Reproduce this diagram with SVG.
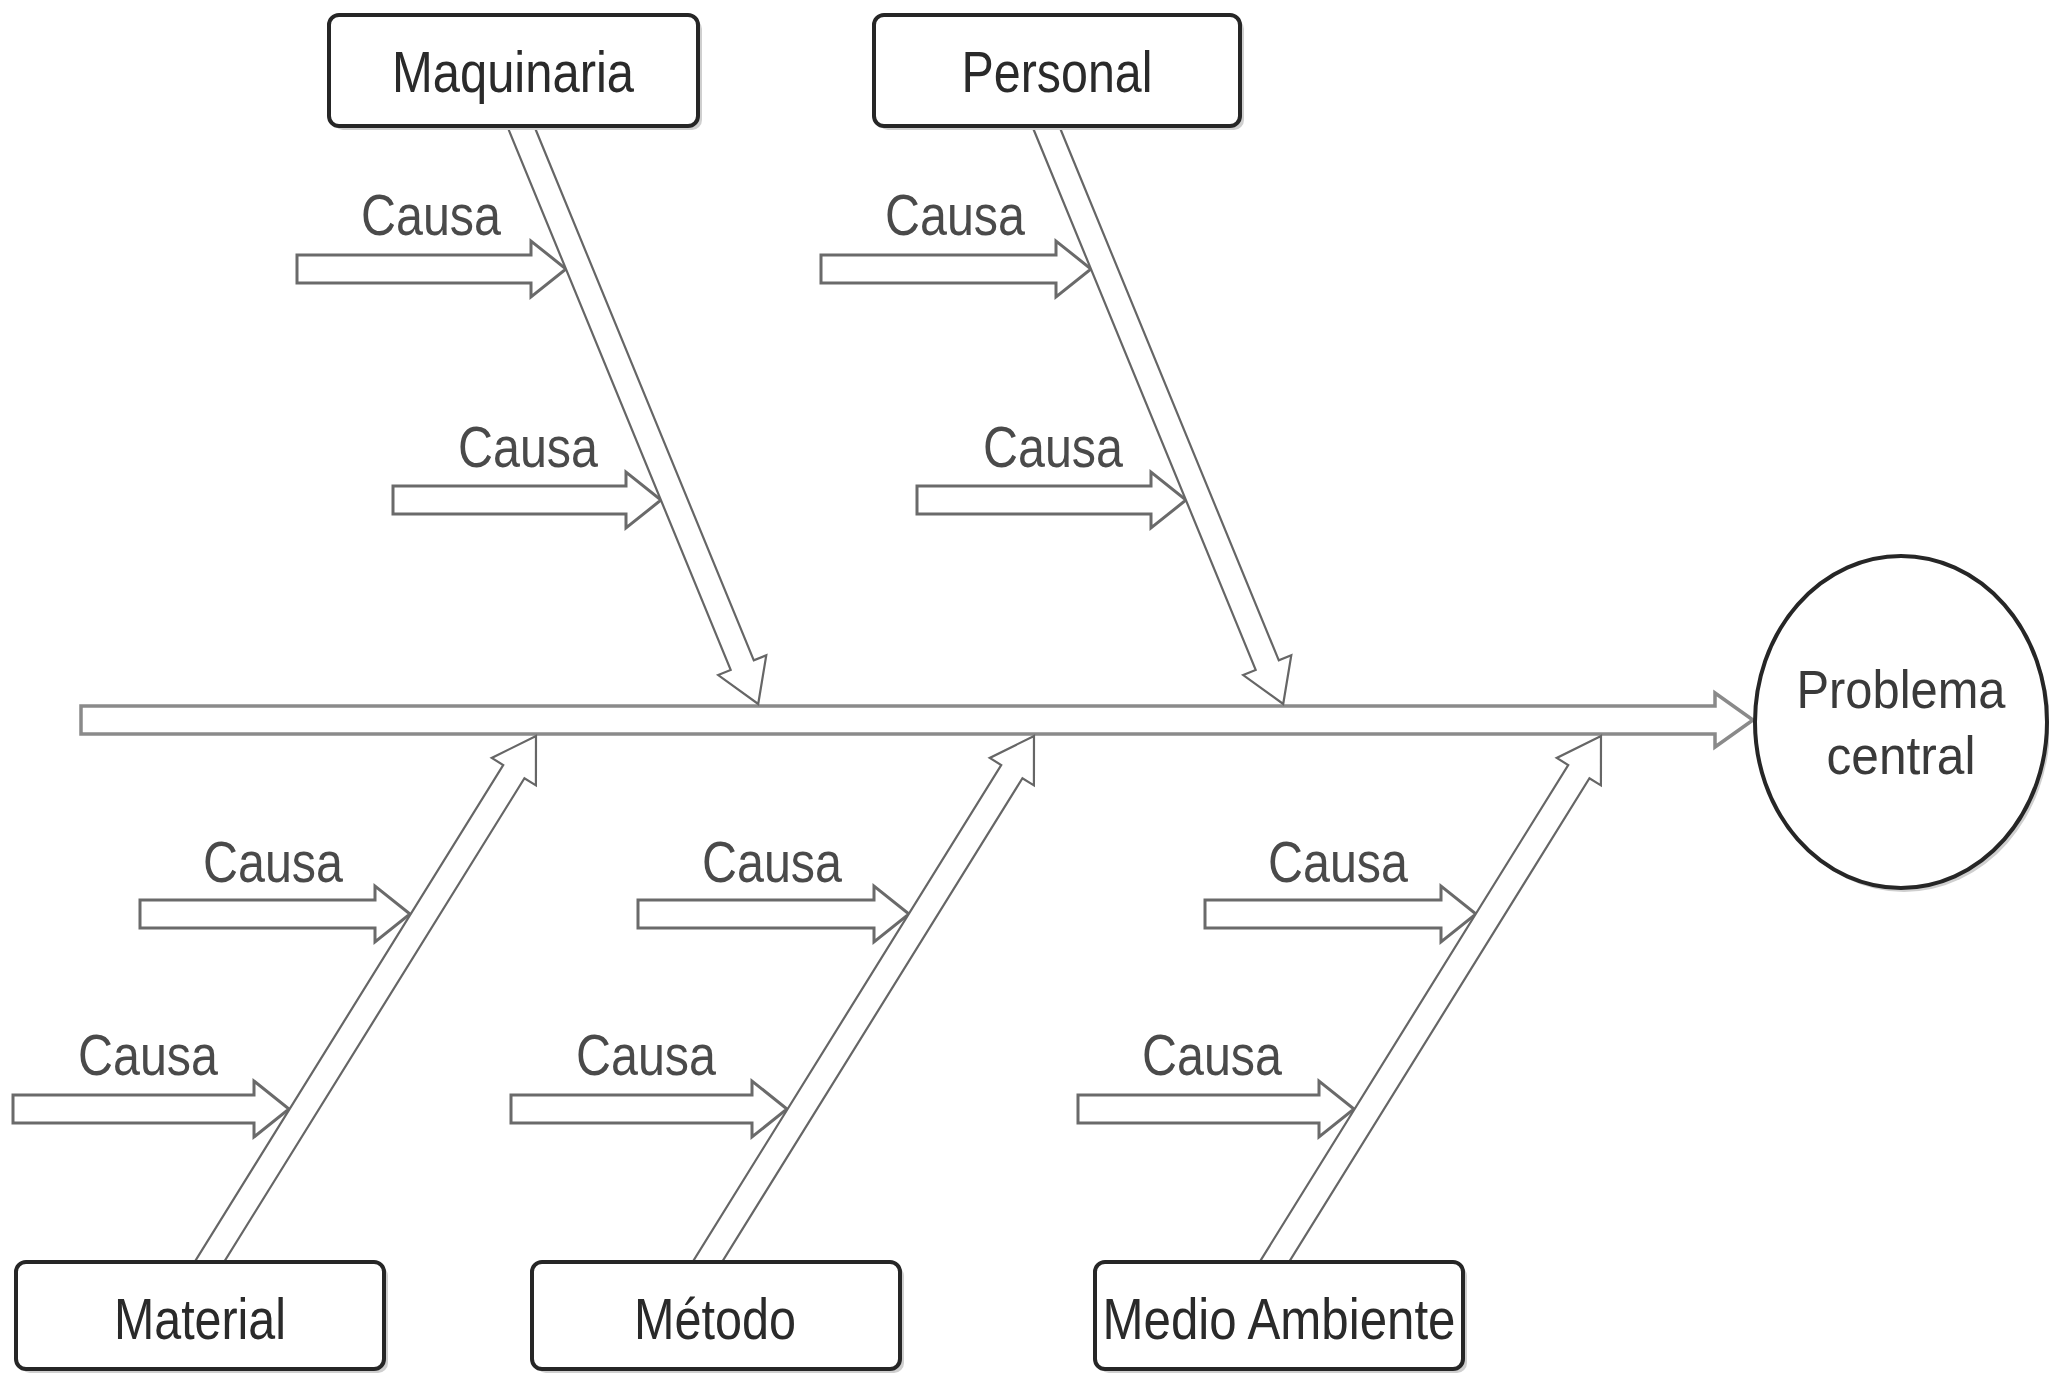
<svg xmlns="http://www.w3.org/2000/svg" width="2049" height="1375" viewBox="0 0 2049 1375">
<style>
.bg{fill:#ffffff}
.spine{fill:#ffffff;stroke:#8a8a8a;stroke-width:3.5;stroke-linejoin:miter}
.branch{fill:#ffffff;stroke:#666666;stroke-width:2.2;stroke-linejoin:miter}
.cause{fill:#ffffff;stroke:#6a6a6a;stroke-width:3;stroke-linejoin:miter}
.box{fill:#ffffff;stroke:#262626;stroke-width:4}
.shadow{fill:#cfcfcf}
.lbl{font-family:"Liberation Sans",Arial,sans-serif;font-size:58px;fill:#2a2a2a;text-anchor:middle}
.causa{font-family:"Liberation Sans",Arial,sans-serif;font-size:58px;fill:#4a4a4a}
</style>
<rect class="bg" x="0" y="0" width="2049" height="1375"/>

<g id="connectors">
  <polygon id="spine" class="spine" points="81,706 1715,706 1715,693 1753,720 1715,747 1715,734 81,734"/>
  <g id="cause-arrows">
    <polygon class="cause" points="297,255 531,255 531,241 566,269 531,297 531,283 297,283"/>
    <polygon class="cause" points="821,255 1056,255 1056,241 1091,269 1056,297 1056,283 821,283"/>
    <polygon class="cause" points="393,486 626,486 626,472 661,500 626,528 626,514 393,514"/>
    <polygon class="cause" points="917,486 1151,486 1151,472 1186,500 1151,528 1151,514 917,514"/>
    <polygon class="cause" points="140,900 375,900 375,886 410,914 375,942 375,928 140,928"/>
    <polygon class="cause" points="638,900 874,900 874,886 909,914 874,942 874,928 638,928"/>
    <polygon class="cause" points="1205,900 1441,900 1441,886 1476,914 1441,942 1441,928 1205,928"/>
    <polygon class="cause" points="13,1095 254,1095 254,1081 289,1109 254,1137 254,1123 13,1123"/>
    <polygon class="cause" points="511,1095 752,1095 752,1081 787,1109 752,1137 752,1123 511,1123"/>
    <polygon class="cause" points="1078,1095 1319,1095 1319,1081 1354,1109 1319,1137 1319,1123 1078,1123"/>
  </g>
  <g id="branches">
    <polygon class="branch" transform="translate(510,100) rotate(67.66)" points="0,-12.5 611,-12.5 611,-26 653,0 611,26 611,12.5 0,12.5"/>
    <polygon class="branch" transform="translate(1035,100) rotate(67.66)" points="0,-12.5 611,-12.5 611,-26 653,0 611,26 611,12.5 0,12.5"/>
    <polygon class="branch" transform="translate(191.5,1290.7) rotate(-58.16)" points="0,-12.5 611,-12.5 611,-26 653,0 611,26 611,12.5 0,12.5"/>
    <polygon class="branch" transform="translate(689.5,1290.7) rotate(-58.16)" points="0,-12.5 611,-12.5 611,-26 653,0 611,26 611,12.5 0,12.5"/>
    <polygon class="branch" transform="translate(1256.5,1290.7) rotate(-58.16)" points="0,-12.5 611,-12.5 611,-26 653,0 611,26 611,12.5 0,12.5"/>
  </g>
</g>

<g id="causa-labels">
  <text class="causa" x="361" y="235" textLength="140" lengthAdjust="spacingAndGlyphs">Causa</text>
  <text class="causa" x="885" y="235" textLength="140" lengthAdjust="spacingAndGlyphs">Causa</text>
  <text class="causa" x="458" y="467" textLength="140" lengthAdjust="spacingAndGlyphs">Causa</text>
  <text class="causa" x="983" y="467" textLength="140" lengthAdjust="spacingAndGlyphs">Causa</text>
  <text class="causa" x="203" y="882" textLength="140" lengthAdjust="spacingAndGlyphs">Causa</text>
  <text class="causa" x="702" y="882" textLength="140" lengthAdjust="spacingAndGlyphs">Causa</text>
  <text class="causa" x="1268" y="882" textLength="140" lengthAdjust="spacingAndGlyphs">Causa</text>
  <text class="causa" x="78" y="1075" textLength="140" lengthAdjust="spacingAndGlyphs">Causa</text>
  <text class="causa" x="576" y="1075" textLength="140" lengthAdjust="spacingAndGlyphs">Causa</text>
  <text class="causa" x="1142" y="1075" textLength="140" lengthAdjust="spacingAndGlyphs">Causa</text>
</g>

<g id="node-maquinaria">
  <rect class="shadow" x="333" y="19" width="369" height="111" rx="10"/>
  <rect class="box" x="329" y="15" width="369" height="111" rx="10"/>
  <text class="lbl" x="513" y="92" textLength="242" lengthAdjust="spacingAndGlyphs">Maquinaria</text>
</g>
<g id="node-personal">
  <rect class="shadow" x="878" y="19" width="366" height="111" rx="10"/>
  <rect class="box" x="874" y="15" width="366" height="111" rx="10"/>
  <text class="lbl" x="1057" y="92" textLength="191" lengthAdjust="spacingAndGlyphs">Personal</text>
</g>
<g id="node-material">
  <rect class="shadow" x="20" y="1266" width="368" height="107" rx="10"/>
  <rect class="box" x="16" y="1262" width="368" height="107" rx="10"/>
  <text class="lbl" x="200" y="1339" textLength="172" lengthAdjust="spacingAndGlyphs">Material</text>
</g>
<g id="node-metodo">
  <rect class="shadow" x="536" y="1266" width="368" height="107" rx="10"/>
  <rect class="box" x="532" y="1262" width="368" height="107" rx="10"/>
  <text class="lbl" x="715" y="1339" textLength="162" lengthAdjust="spacingAndGlyphs">Método</text>
</g>
<g id="node-medio-ambiente">
  <rect class="shadow" x="1099" y="1266" width="368" height="107" rx="10"/>
  <rect class="box" x="1095" y="1262" width="368" height="107" rx="10"/>
  <text class="lbl" x="1279" y="1339" textLength="353" lengthAdjust="spacingAndGlyphs">Medio Ambiente</text>
</g>
<g id="node-problema-central">
  <ellipse class="shadow" cx="1904" cy="726" rx="146" ry="166"/>
  <ellipse class="box" cx="1901" cy="722" rx="146" ry="166" stroke-width="3.5"/>
  <text class="lbl" x="1901" y="708" font-size="54" textLength="209" lengthAdjust="spacingAndGlyphs" style="font-size:54px;fill:#3a3a3a">Problema</text>
  <text class="lbl" x="1901" y="774" textLength="149" lengthAdjust="spacingAndGlyphs" style="font-size:54px;fill:#3a3a3a">central</text>
</g>
</svg>
